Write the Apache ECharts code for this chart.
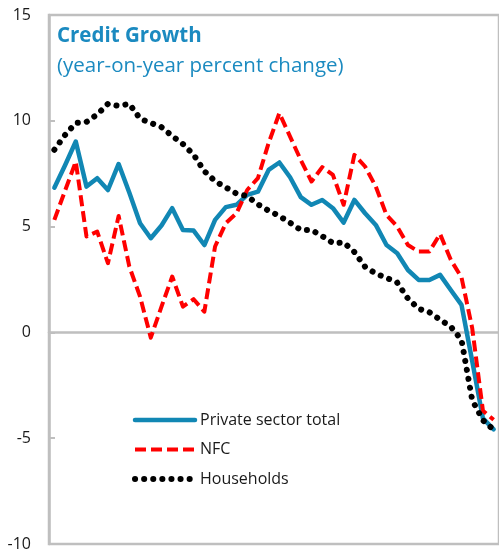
<!DOCTYPE html>
<html>
<head>
<meta charset="utf-8">
<script src="https://cdn.jsdelivr.net/npm/echarts@6/dist/echarts.min.js"></script>
<style>
  html, body { margin: 0; padding: 0; background: #fff; }
  #chart { width: 499px; height: 557px; }
</style>
</head>
<body>
<div id="chart"></div>
<script>
// periods (two per tick mark)
const periods = [
  'P1', 'P2', 'P3', 'P4', 'P5', 'P6', 'P7', 'P8', 'P9', 'P10',
  'P11', 'P12', 'P13', 'P14', 'P15', 'P16', 'P17', 'P18', 'P19', 'P20',
  'P21', 'P22', 'P23', 'P24', 'P25', 'P26', 'P27', 'P28', 'P29', 'P30',
  'P31', 'P32', 'P33', 'P34', 'P35', 'P36', 'P37', 'P38', 'P39', 'P40',
  'P41', 'P42'
];

const privateTotal = [
  6.84, 7.9, 9.02, 6.89, 7.29, 6.73, 7.96, 6.6, 5.16, 4.45,
  5.05, 5.87, 4.84, 4.81, 4.13, 5.32, 5.92, 6.03, 6.5, 6.65,
  7.68, 8.03, 7.33, 6.39, 6.03, 6.26, 5.87, 5.19, 6.26, 5.63,
  5.08, 4.13, 3.74, 2.95, 2.48, 2.48, 2.72, 2.0, 1.3, -1.35,
  -4.06, -4.58
];

const nfc = [
  5.32, 6.7, 8.07, 4.53, 4.76, 3.27, 5.5, 3.11, 1.69, -0.25,
  1.22, 2.64, 1.22, 1.57, 0.98, 4.06, 5.16, 5.63, 6.73, 7.29,
  8.95, 10.36, 9.25, 8.15, 7.13, 7.81, 7.44, 6.03, 8.39, 7.84,
  6.89, 5.55, 5.0, 4.13, 3.82, 3.82, 4.65, 3.43, 2.6, 0.2,
  -3.7, -4.13
];

const households = [
  8.63, 9.33, 9.9, 9.95, 10.3, 10.8, 10.7, 10.8, 10.1, 9.9,
  9.7, 9.28, 8.9, 8.4, 7.62, 7.15, 6.85, 6.56, 6.44, 6.05,
  5.75, 5.5, 5.18, 4.84, 4.84, 4.55, 4.22, 4.25, 3.8, 3.1,
  2.78, 2.58, 2.35, 1.6, 1.12, 0.95, 0.6, 0.27, -0.35, -3.2,
  -4.15, -4.6
];

const yTicks = [-10, -5, 0, 5, 10, 15];

const FONT = 'Open Sans';
const AXIS_GRAY = '#BFBFBF';

const chart = echarts.init(document.getElementById('chart'));

chart.setOption({
  animation: false,
  backgroundColor: '#fff',
  title: [
    {
      text: 'Credit Growth',
      left: 57,
      top: 26,
      padding: 0,
      textStyle: { fontFamily: FONT, fontSize: 20.5, fontWeight: 'bold', color: '#1B8AC0' }
    },
    {
      text: '(year-on-year percent change)',
      left: 57,
      top: 56,
      padding: 0,
      textStyle: { fontFamily: FONT, fontSize: 20.5, fontWeight: 'normal', color: '#1B8AC0' }
    }
  ],
  legend: {
    orient: 'vertical',
    left: 132,
    top: 412,
    itemWidth: 60,
    itemHeight: 14,
    itemGap: 13.5,
    padding: 0,
    itemStyle: { opacity: 0, borderWidth: 0 },
    lineStyle: { width: 'inherit' },
    textStyle: { fontFamily: FONT, fontSize: 16, color: '#1a1a1a' },
    data: ['Private sector total', 'NFC', 'Households']
  },
  grid: {
    left: 49,
    right: -4,
    top: 15,
    bottom: 13,
    show: true,
    borderColor: AXIS_GRAY,
    borderWidth: 2.5,
    containLabel: false
  },
  xAxis: {
    type: 'category',
    data: periods,
    boundaryGap: true,
    axisLine: { onZero: true, lineStyle: { color: AXIS_GRAY, width: 2.5 } },
    axisTick: { inside: true, interval: 1, length: 5, lineStyle: { color: AXIS_GRAY, width: 2 } },
    axisLabel: { show: false },
    splitLine: { show: false }
  },
  yAxis: {
    type: 'value',
    min: yTicks[0],
    max: yTicks[yTicks.length - 1],
    interval: yTicks[1] - yTicks[0],
    axisLine: { show: true, lineStyle: { color: AXIS_GRAY, width: 2.5 } },
    axisTick: { show: true, inside: true, length: 6, lineStyle: { color: AXIS_GRAY, width: 2 } },
    axisLabel: { fontFamily: FONT, fontSize: 16, color: '#1a1a1a', margin: 18 },
    splitLine: { show: false }
  },
  series: [
    {
      name: 'Private sector total',
      type: 'line',
      data: privateTotal,
      symbol: 'none',
      lineStyle: { color: '#1187B4', width: 4.5, join: 'round', cap: 'round' },
      itemStyle: { color: '#1187B4' }
    },
    {
      name: 'NFC',
      type: 'line',
      data: nfc,
      symbol: 'none',
      lineStyle: { color: '#FF0000', width: 4, type: [11, 5], join: 'round' },
      itemStyle: { color: '#FF0000' }
    },
    {
      name: 'Households',
      type: 'line',
      data: households,
      symbol: 'none',
      lineStyle: { color: '#000000', width: 6, type: [0.1, 9], cap: 'round', join: 'round' },
      itemStyle: { color: '#000000' }
    }
  ]
});
</script>
</body>
</html>
